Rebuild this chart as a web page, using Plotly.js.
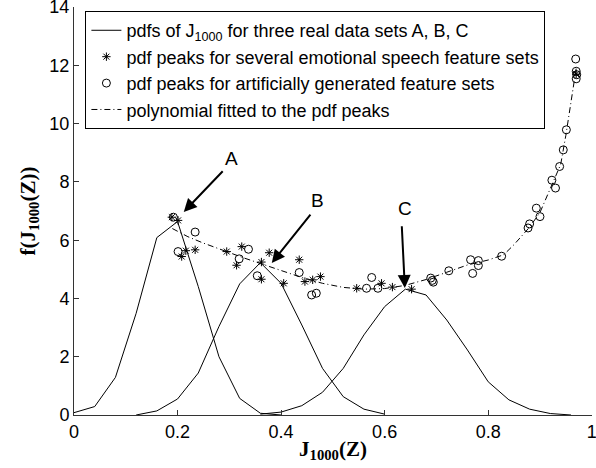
<!DOCTYPE html>
<html>
<head>
<meta charset="utf-8">
<script src="https://cdn.plot.ly/plotly-3.0.1.min.js"></script>
<style>html,body{margin:0;padding:0;background:#fff;}#chart{width:596px;height:468px;}</style>
</head>
<body>
<div id="chart"></div>
<script>
// pdf curves of J1000 for the three real data sets
const xA = [0, 0.04, 0.08, 0.12, 0.16, 0.20, 0.24, 0.28, 0.32, 0.36, 0.40];
const pdfA = [0.08, 0.29, 1.29, 3.49, 6.09, 6.64, 4.41, 2.00, 0.57, 0.06, 0.0];
const xB = [0.12, 0.16, 0.20, 0.24, 0.28, 0.32, 0.36, 0.40, 0.44, 0.48, 0.52, 0.56, 0.60];
const pdfB = [0.0, 0.14, 0.55, 1.44, 3.04, 4.50, 5.23, 4.52, 3.09, 1.60, 0.63, 0.20, 0.03];
const xC = [0.36, 0.40, 0.44, 0.48, 0.52, 0.56, 0.60, 0.64, 0.68, 0.72, 0.76, 0.80, 0.84, 0.88, 0.92, 0.96];
const pdfC = [0.03, 0.10, 0.32, 0.78, 1.60, 2.75, 3.72, 4.32, 4.12, 3.26, 2.23, 1.14, 0.52, 0.20, 0.05, 0.0];

// pdf peaks for emotional speech feature sets (*)
const starX = [0.189, 0.201, 0.208, 0.216, 0.234, 0.295, 0.314, 0.324, 0.362, 0.362, 0.377, 0.405, 0.435, 0.446, 0.461, 0.476, 0.546, 0.594, 0.615, 0.652, 0.970];
const starY = [6.79, 6.68, 5.44, 5.64, 5.67, 5.61, 5.14, 5.78, 5.25, 4.66, 5.57, 4.52, 5.33, 4.58, 4.64, 4.75, 4.35, 4.52, 4.39, 4.32, 11.70];

// pdf peaks for artificially generated feature sets (o)
const circX = [0.192, 0.201, 0.234, 0.319, 0.337, 0.354, 0.435, 0.459, 0.468, 0.565, 0.575, 0.587, 0.689, 0.692, 0.694, 0.724, 0.766, 0.781, 0.781, 0.770, 0.826, 0.877, 0.880, 0.893, 0.900, 0.923, 0.930, 0.938, 0.945, 0.951, 0.969, 0.970, 0.971, 0.970];
const circY = [6.79, 5.61, 6.28, 5.36, 5.69, 4.78, 4.89, 4.12, 4.18, 4.35, 4.72, 4.35, 4.70, 4.62, 4.56, 4.95, 5.33, 5.30, 5.13, 4.86, 5.45, 6.42, 6.56, 7.10, 6.81, 8.06, 7.79, 8.53, 9.10, 9.79, 12.22, 11.80, 11.68, 11.54];

// polynomial fitted to the pdf peaks
const polyX = [0.19, 0.22, 0.25, 0.28, 0.30, 0.33, 0.36, 0.40, 0.44, 0.48, 0.52, 0.56, 0.60, 0.64, 0.68, 0.72, 0.76, 0.80, 0.83, 0.85, 0.88, 0.90, 0.92, 0.93, 0.94, 0.95, 0.96, 0.97];
const polyY = [6.40, 6.12, 5.90, 5.70, 5.58, 5.38, 5.20, 4.95, 4.72, 4.52, 4.38, 4.32, 4.34, 4.45, 4.65, 4.90, 5.15, 5.32, 5.50, 5.85, 6.45, 6.95, 7.80, 8.20, 8.60, 9.60, 10.80, 11.90];

// arrow labels
const labels = ["A", "B", "C"];
const tipX = [0.212, 0.382, 0.639];
const tipY = [6.97, 5.22, 4.36];
const tailX = [0.290, 0.459, 0.633];
const tailY = [8.42, 6.93, 6.53];
const labX = [0.305, 0.471, 0.639];
const labY = [8.80, 7.35, 7.10];

// tick labels
const xTicks = [0, 0.2, 0.4, 0.6, 0.8, 1];
const xTickText = ['0', '0.2', '0.4', '0.6', '0.8', '1'];
const yTicks = [0, 2, 4, 6, 8, 10, 12, 14];

const lineStyle = {color: '#000', width: 1};
const traces = [
  {x: xA, y: pdfA, mode: 'lines', line: lineStyle, name: 'pdfs of J<sub>1000</sub> for three real data sets A, B, C', legendgroup: 'pdf', showlegend: true},
  {x: xB, y: pdfB, mode: 'lines', line: lineStyle, name: 'pdfB', legendgroup: 'pdf', showlegend: false},
  {x: xC, y: pdfC, mode: 'lines', line: lineStyle, name: 'pdfC', legendgroup: 'pdf', showlegend: false},
  {x: starX, y: starY, mode: 'markers', name: 'pdf peaks for several emotional speech feature sets',
   marker: {symbol: 'asterisk-open', size: 7, color: '#000', line: {color: '#000', width: 1}}},
  {x: circX, y: circY, mode: 'markers', name: 'pdf peaks for artificially generated feature sets',
   marker: {symbol: 'circle-open', size: 8, color: '#000', line: {color: '#000', width: 1}}},
  {x: polyX, y: polyY, mode: 'lines', name: 'polynomial fitted to the pdf peaks',
   line: {color: '#000', width: 1, dash: '6px,3px,1px,3px'}}
];

const annotations = [];
for (let i = 0; i < labels.length; i++) {
  annotations.push({x: tipX[i], y: tipY[i], ax: tailX[i], ay: tailY[i], axref: 'x', ayref: 'y', xref: 'x', yref: 'y',
    text: '', showarrow: true, arrowhead: 2, arrowsize: 1.3, arrowwidth: 2, arrowcolor: '#000'});
  annotations.push({x: labX[i], y: labY[i], xref: 'x', yref: 'y', text: labels[i], showarrow: false,
    font: {family: 'Liberation Sans, Arial, sans-serif', size: 19, color: '#000'}});
}

const layout = {
  width: 596, height: 468,
  margin: {l: 74, r: 4, t: 7, b: 53},
  paper_bgcolor: '#fff', plot_bgcolor: '#fff',
  font: {family: 'Liberation Sans, Arial, sans-serif', size: 17, color: '#000'},
  showlegend: true,
  legend: {x: 0.022, y: 0.99, xanchor: 'left', yanchor: 'top', bgcolor: '#fff', bordercolor: '#000', borderwidth: 1,
    font: {family: 'Liberation Sans, Arial, sans-serif', size: 18, color: '#000'}, tracegroupgap: 0},
  xaxis: {range: [0, 1.0005], tickvals: xTicks, ticktext: xTickText, ticklabeloverflow: 'allow',
    ticks: 'inside', ticklen: 5, tickcolor: '#333', showgrid: false, zeroline: false, showline: true, linecolor: '#333', linewidth: 1,
    tickfont: {size: 18}, title: {text: '<b>J<sub>1000</sub>(Z)</b>', font: {family: 'Liberation Serif, Times New Roman, serif', size: 21}, standoff: 0}},
  yaxis: {range: [0, 14.005], tickvals: yTicks, ticks: 'inside', ticklen: 5, tickcolor: '#333', showgrid: false, zeroline: false,
    ticklabeloverflow: 'allow',
    showline: true, linecolor: '#333', linewidth: 1, tickfont: {size: 18},
    title: {text: '<b>f(J<sub>1000</sub>(Z))</b>', font: {family: 'Liberation Serif, Times New Roman, serif', size: 21}, standoff: 8}},
  annotations: annotations
};

Plotly.newPlot('chart', traces, layout, {displayModeBar: false, staticPlot: true});
</script>
</body>
</html>
